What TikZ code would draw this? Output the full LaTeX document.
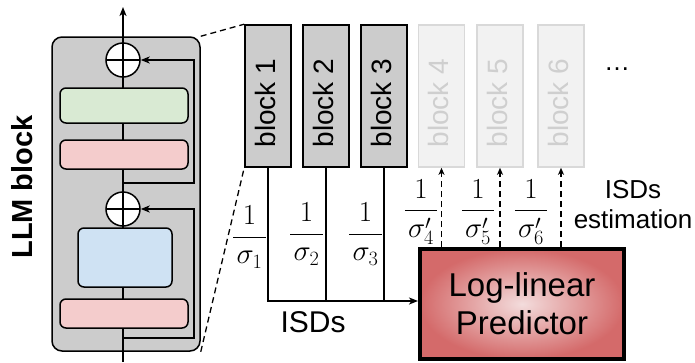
\RequirePackage{fix-cm}
\documentclass[tikz,border=0pt]{standalone}
\usepackage{fontspec}
\newfontfamily\arial{Liberation Sans}
\usetikzlibrary{arrows.meta}
\definecolor{llmgray}{HTML}{CCCCCC}
\definecolor{mygreen}{HTML}{D9EAD3}
\definecolor{mypink}{HTML}{F4CCCC}
\definecolor{myblue}{HTML}{CFE2F3}
\definecolor{lightfill}{HTML}{F2F2F2}
\definecolor{lightdraw}{HTML}{D9D9D9}
\definecolor{lighttext}{HTML}{CFCFCF}
\definecolor{predin}{HTML}{F3DCDC}
\definecolor{predout}{HTML}{D46A6A}
\tikzset{
  ln/.style={line width=1.5pt},
  arr/.style={-{Stealth[length=9pt,width=7pt,inset=2.5pt]}},
  sarr/.style={-{Stealth[length=7pt,width=6pt,inset=2pt]}},
  dsh/.style={line width=1.3pt, dash pattern=on 6pt off 4pt},
  llmbox/.style={draw, line width=1.5pt, fill=llmgray, rounded corners=10pt,
    minimum width=148pt, minimum height=314pt, inner sep=0pt},
  inbox/.style={draw, line width=1.5pt, rounded corners=6pt, inner sep=0pt},
  plusc/.style={circle, draw, fill=white, line width=1.5pt, minimum size=34pt, inner sep=0pt,
    path picture={\draw[line width=1.5pt] (path picture bounding box.north) -- (path picture bounding box.south)
      (path picture bounding box.west) -- (path picture bounding box.east);}},
  blk/.style={draw, line width=1.6pt, fill=llmgray, minimum width=46pt, minimum height=142pt, inner sep=0pt},
  blkl/.style={draw=lightdraw, line width=1.6pt, fill=lightfill, minimum width=46pt, minimum height=142pt, inner sep=0pt},
  blktxt/.style={rotate=90, font=\arial\fontsize{28}{30}\selectfont, inner sep=0pt},
  frac/.style={font=\fontsize{29}{33}\selectfont, inner sep=0pt},
  pred/.style={draw, line width=4pt, inner color=predin, outer color=predout,
    minimum width=204pt, minimum height=110pt, inner sep=0pt},
}
\begin{document}
\begin{tikzpicture}[x=1pt,y=-1pt]
\useasboundingbox (0,0) rectangle (695,362);
% LLM block
\node[llmbox] (llm) at (126,194) {};
\node[rotate=90, font=\arial\bfseries\fontsize{29}{30}\selectfont, inner sep=0pt] (llmlabel) at (22.5,187) {LLM block};
\coordinate (inp) at (123,362);
\coordinate (outp) at (123,7);
\draw[ln,arr] (inp) -- (outp);
\node[plusc] (p1) at (123,60) {};
\node[inbox, fill=mygreen, minimum width=128pt, minimum height=35pt] (green) at (124,105.5) {};
\node[inbox, fill=mypink, minimum width=128pt, minimum height=29pt] (pink1) at (124,154.5) {};
\node[plusc] (p2) at (123,209) {};
\node[inbox, fill=myblue, minimum width=94pt, minimum height=59pt] (blue) at (125,257.5) {};
\node[inbox, fill=mypink, minimum width=128pt, minimum height=29pt] (pink2) at (124,313.5) {};
\coordinate (r1) at (123,183);
\coordinate (r2) at (123,338);
\coordinate (rx) at (194,0);
\draw[ln,arr] (r1) -- (r1 -| rx) |- (p1.east);
\draw[ln,arr] (r2) -- (r2 -| rx) |- (p2.east);
% blocks
\node[blk] (b1) at (268,96) {};
\node[blk] (b2) at (326,96) {};
\node[blk] (b3) at (384,96) {};
\node[blkl] (b4) at (441.5,96) {};
\node[blkl] (b5) at (500,96) {};
\node[blkl] (b6) at (561,96) {};
\node[blktxt] (t1) at (265,103) {block 1};
\node[blktxt] (t2) at (323,103) {block 2};
\node[blktxt] (t3) at (381,103) {block 3};
\node[blktxt, text=lighttext] (t4) at (438.5,103) {block 4};
\node[blktxt, text=lighttext] (t5) at (497,103) {block 5};
\node[blktxt, text=lighttext] (t6) at (558,103) {block 6};
\node[font=\arial\fontsize{26}{30}\selectfont, inner sep=0pt, anchor=base] (dots) at (617,70) {\ldots};
% dashed zoom lines
\draw[dsh] (llm.north east) -- (b1.north west);
\draw[dsh] (llm.south east) -- (b1.south west);
% predictor
\node[pred, align=center, font=\arial\fontsize{33}{38}\selectfont] (pr) at (522,304) {Log-linear\\Predictor};
\coordinate (j) at (268,301);
\draw[ln,arr] (b1.south) -- (j) -- (j -| pr.west);
\draw[ln] (b2.south) -- (b2.south |- j);
\draw[ln] (b3.south) -- (b3.south |- j);
\draw[dsh,sarr] (b4.south |- pr.north) -- (b4.south);
\draw[dsh,sarr] (b5.south |- pr.north) -- (b5.south);
\draw[dsh,sarr] (b6.south |- pr.north) -- (b6.south);
% fractions
\node[frac] (f1) at (249.5,237) {$\displaystyle\frac{1}{\mskip2mu\sigma_1\mskip2mu}$};
\node[frac] (f2) at (306.5,234) {$\displaystyle\frac{1}{\mskip2mu\sigma_2\mskip2mu}$};
\node[frac] (f3) at (365.5,234) {$\displaystyle\frac{1}{\mskip2mu\sigma_3\mskip2mu}$};
\node[frac] (f4) at (421,212) {$\displaystyle\frac{1}{\mskip2mu\sigma'_4\mskip2mu}$};
\node[frac] (f5) at (478,212) {$\displaystyle\frac{1}{\mskip2mu\sigma'_5\mskip2mu}$};
\node[frac] (f6) at (531,212) {$\displaystyle\frac{1}{\mskip2mu\sigma'_6\mskip2mu}$};
% labels
\node[font=\arial\fontsize{30}{34}\selectfont, inner sep=0pt] (isd) at (313,322) {ISDs};
\node[font=\arial\fontsize{26}{30}\selectfont, align=center, inner sep=0pt] (isde) at (633,205) {ISDs\\estimation};
\end{tikzpicture}
\end{document}
